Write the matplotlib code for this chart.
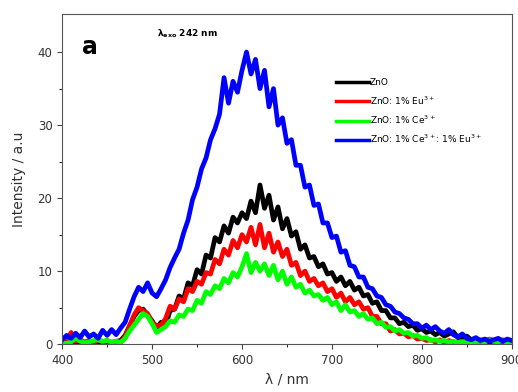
import matplotlib.pyplot as plt
import numpy as np

# wavelength grid (nm), 5 nm steps
wavelength = np.arange(400, 905, 5)

zno = [0.3, 0.1, 0.5, 0.2, 0.4, 0.1, 0.3, 0.2, 0.4, 0.1,
       0.3, 0.2, 0.4, 0.5, 1.2, 2.5, 3.8, 4.6, 4.8, 4.0,
       3.2, 2.2, 3.0, 2.6, 4.6, 4.8, 6.6, 6.2, 8.4, 8.0,
       10.2, 9.6, 12.2, 11.8, 14.6, 14.0, 16.2, 15.2, 17.4, 16.6,
       18.0, 17.2, 19.6, 18.0, 21.8, 18.6, 20.4, 17.0, 18.8, 15.8,
       17.2, 14.8, 15.4, 13.0, 13.6, 11.8, 12.0, 10.6, 11.0, 9.6,
       9.8, 8.6, 9.2, 8.0, 8.6, 7.4, 7.8, 6.6, 6.8, 5.6,
       5.8, 4.6, 4.6, 3.6, 3.6, 2.8, 3.0, 2.4, 2.6, 1.9,
       2.1, 1.6, 1.8, 1.3, 1.6, 1.1, 1.4, 1.7, 0.9, 1.0,
       1.1, 0.6, 0.5, 0.4, 0.5, 0.3, 0.4, 0.3, 0.4, 0.2, 0.3]

zno_eu = [0.3, 0.5, 1.6, 0.4, 0.6, 0.3, 0.5, 0.2, 0.6, 0.3,
          0.5, 0.2, 0.4, 0.3, 1.0, 2.5, 4.0, 5.0, 4.6, 4.2,
          3.0, 2.5, 2.6, 3.5, 5.2, 4.8, 6.2, 5.8, 7.6, 7.2,
          8.6, 8.2, 9.8, 9.6, 11.6, 11.0, 13.0, 12.2, 14.2, 13.2,
          15.0, 14.0, 16.0, 13.6, 16.4, 13.2, 15.2, 12.6, 14.0, 12.0,
          13.0, 10.8, 11.2, 9.4, 10.0, 8.6, 9.0, 8.0, 8.4, 7.2,
          7.6, 6.4, 7.0, 5.8, 6.4, 5.4, 5.8, 4.8, 5.0, 3.8,
          3.8, 2.8, 2.8, 1.8, 2.0, 1.4, 1.5, 1.0, 1.2, 0.7,
          0.8, 0.5, 0.6, 0.3, 0.6, 0.2, 0.5, 0.3, 0.2, 0.4,
          0.3, 0.5, 0.3, 0.6, 0.4, 0.7, 0.5, 0.4, 0.6, 0.3, 0.4]

zno_ce = [0.2, 0.1, 0.3, 0.9, 0.4, 0.2, 0.3, 0.5, 0.6, 0.4,
          0.5, 0.3, 0.4, 0.2, 0.8, 1.8, 2.6, 3.4, 4.2, 3.8,
          2.8, 1.6, 2.0, 2.4, 3.2, 3.0, 4.0, 3.8, 4.8, 4.6,
          6.0, 5.6, 7.2, 6.8, 8.0, 7.6, 9.0, 8.4, 9.8, 9.2,
          10.6, 12.4, 9.8, 11.2, 10.0, 11.0, 9.4, 10.8, 8.8, 10.0,
          8.2, 9.2, 7.8, 8.2, 7.0, 7.4, 6.6, 6.8, 6.0, 6.4,
          5.4, 5.8, 4.6, 5.4, 4.4, 4.6, 3.8, 4.2, 3.4, 3.6,
          2.8, 3.0, 2.3, 2.4, 1.8, 2.0, 1.5, 1.6, 1.1, 1.2,
          0.8, 0.9, 0.5, 0.6, 0.4, 0.5, 0.3, 0.4, 0.2, 0.3,
          0.2, 0.4, 0.3, 0.5, 0.3, 0.6, 0.4, 0.3, 0.5, 0.2, 0.3]

zno_ce_eu = [0.6, 1.2, 0.8, 1.5, 0.9, 1.8, 1.0, 1.4, 0.8, 1.9,
             1.2, 2.0, 1.3, 2.2, 3.0, 4.8, 6.5, 7.8, 7.2, 8.4,
             7.0, 6.5, 7.6, 8.8, 10.5, 11.8, 13.0, 15.2, 17.0, 19.8,
             21.5, 24.0, 25.5, 28.0, 29.5, 31.5, 36.5, 33.0, 36.0, 34.5,
             37.5, 40.0, 37.0, 39.0, 35.0, 37.5, 32.5, 35.0, 30.0, 31.0,
             27.5, 28.0, 24.5, 24.5, 21.5, 21.8, 19.0, 19.2, 16.6, 16.6,
             14.6, 14.8, 12.6, 12.8, 10.8, 10.6, 9.2, 9.2, 7.8, 7.6,
             6.6, 6.4, 5.4, 5.2, 4.4, 4.2, 3.6, 3.4, 2.8, 2.8,
             2.2, 2.6, 2.0, 2.4, 1.8, 1.5, 2.0, 1.3, 1.0, 1.4,
             0.8, 0.6, 0.9, 0.5, 0.7, 0.4, 0.6, 0.8, 0.4, 0.7, 0.5]

labels = ["ZnO", "ZnO: 1% Eu$^{3+}$", "ZnO: 1% Ce$^{3+}$",
          "ZnO: 1% Ce$^{3+}$: 1% Eu$^{3+}$"]
colors = ["black", "red", "#00ff00", "blue"]

fig = plt.figure(figsize=(5.18, 3.92), dpi=100)
ax = fig.add_axes([0.12, 0.122, 0.868, 0.842])

for y, lab, c in zip([zno, zno_eu, zno_ce, zno_ce_eu], labels, colors):
    ax.plot(wavelength, y, color=c, lw=3.4, label=lab)

ax.set_xlim(400, 900)
ax.set_ylim(0, 45.2)
ax.set_xticks([400, 500, 600, 700, 800, 900])
ax.set_xticks([450, 550, 650, 750, 850], minor=True)
ax.set_yticks([0, 10, 20, 30, 40])
ax.set_yticks([5, 15, 25, 35], minor=True)
ax.tick_params(labelsize=8.5, labelcolor="#333333", colors="#444444")
for s in ax.spines.values():
    s.set_color("#555555")

ax.set_xlabel("λ / nm", fontsize=10, color="#333333")
ax.set_ylabel("Intensity / a.u", fontsize=10, color="#333333", labelpad=8)

ax.text(0.045, 0.9, "a", transform=ax.transAxes, fontsize=17,
        fontweight="bold", va="center")
ax.text(0.21, 0.94, r"$\mathbf{\lambda_{exo}}$ 242 nm", transform=ax.transAxes,
        fontsize=6.5, fontweight="bold", va="center")

leg = ax.legend(loc="upper left", bbox_to_anchor=(0.59, 0.83), frameon=False,
                fontsize=6.5, handlelength=3.7, handletextpad=0.1,
                labelspacing=0.75)
for h in leg.get_lines():
    h.set_linewidth(2.5)

fig.savefig("out.png", dpi=100)
